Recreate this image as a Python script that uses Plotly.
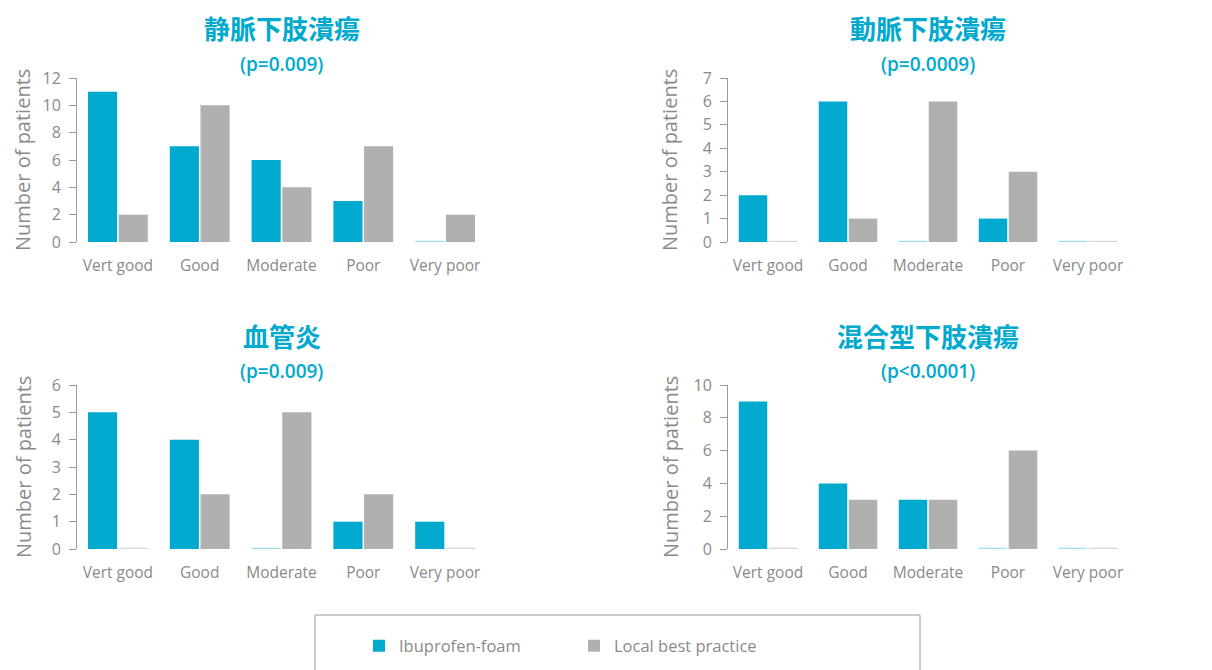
import plotly.graph_objects as go

categories = ["Vert good", "Good", "Moderate", "Poor", "Very poor"]
series_names = ["Ibuprofen-foam", "Local best practice"]

titles = ["静脈下肢潰瘍", "動脈下肢潰瘍", "血管炎", "混合型下肢潰瘍"]
p_values = ["(p=0.009)", "(p=0.0009)", "(p=0.009)", "(p<0.0001)"]

venous_ibuprofen = [11, 7, 6, 3, 0]
venous_local = [2, 10, 4, 7, 2]
arterial_ibuprofen = [2, 6, 0, 1, 0]
arterial_local = [0, 1, 6, 3, 0]
vasculitis_ibuprofen = [5, 4, 0, 1, 1]
vasculitis_local = [0, 2, 5, 2, 0]
mixed_ibuprofen = [9, 4, 3, 0, 0]
mixed_local = [0, 3, 3, 6, 0]

y_max = [12, 7, 6, 10]
y_dtick = [2, 1, 1, 2]

BLUE = "#00a9ce"
GRAY = "#b0b0b0"
BLUE_ZERO = "#9fdcee"
GRAY_ZERO = "#d6d6d6"
TEXT = "#8a8a8a"

# the page has an 8px body margin: the figure occupies the rest of the window
OFF = 8
W, H = 1212 - OFF, 670 - OFF


def px_x(x):
    return (x - OFF) / W


def px_y(y):
    return 1 - (y - OFF) / H


panels = [
    (venous_ibuprofen, venous_local),
    (arterial_ibuprofen, arterial_local),
    (vasculitis_ibuprofen, vasculitis_local),
    (mixed_ibuprofen, mixed_local),
]

# window-pixel layout of the panels: (x0, x1, y_top, y_bottom)
px_dom = [(77, 486, 78, 242), (728, 1128, 78, 242), (77, 486, 385, 549), (728, 1128, 385, 549)]

fig = go.Figure()

for i, (b, g) in enumerate(panels):
    ax = "" if i == 0 else str(i + 1)
    for vals, col, zcol, name in ((b, BLUE, BLUE_ZERO, series_names[0]), (g, GRAY, GRAY_ZERO, series_names[1])):
        fig.add_trace(go.Bar(
            x=categories, y=vals, name=name,
            marker=dict(color=col,
                        line=dict(color=[zcol if v == 0 else col for v in vals],
                                  width=[2.5 if v == 0 else 0 for v in vals])),
            xaxis="x" + ax, yaxis="y" + ax,
            showlegend=(i == 0), legendgroup=name,
        ))
    x0, x1, yt, yb = px_dom[i]
    fig.layout["xaxis" + ax] = dict(
        domain=[px_x(x0), px_x(x1)], anchor="y" + ax, range=[-0.5, 4.5],
        showline=False, ticks="", showgrid=False, zeroline=False,
        tickfont=dict(size=15.5, color=TEXT, family="Open Sans"),
        ticklabelstandoff=12,
    )
    fig.layout["yaxis" + ax] = dict(
        domain=[px_y(yb), px_y(yt)], anchor="x" + ax, range=[0, y_max[i]],
        dtick=y_dtick[i], showline=True, linecolor="#9a9a9a", linewidth=1,
        ticks="outside", ticklen=7, tickcolor="#9a9a9a", showgrid=False, zeroline=False,
        tickfont=dict(size=16, color=TEXT, family="Open Sans"),
        ticklabelstandoff=5,
    )
    cx = px_x((x0 + x1) / 2)
    ty = 28 if i < 2 else 335
    fig.add_annotation(x=cx, y=px_y(ty), xref="paper", yref="paper", text=titles[i],
                       showarrow=False, xanchor="center", yanchor="middle",
                       font=dict(size=26, color=BLUE, family="Noto Sans CJK JP", weight="bold"))
    fig.add_annotation(x=cx, y=px_y(ty + 36), xref="paper", yref="paper", text=p_values[i],
                       showarrow=False, xanchor="center", yanchor="middle",
                       font=dict(size=19, color=BLUE, family="Open Sans", weight=600))
    ax_x = 23 if i % 2 == 0 else 670
    fig.add_annotation(x=px_x(ax_x), y=px_y((yt + yb) / 2), xref="paper", yref="paper",
                       text="Number of patients", textangle=-90, showarrow=False,
                       xanchor="center", yanchor="middle",
                       font=dict(size=20, color=TEXT, family="Open Sans"))

fig.add_shape(type="rect", xref="paper", yref="paper",
              x0=px_x(315), x1=px_x(920), y0=px_y(615), y1=px_y(700),
              line=dict(color="#9a9a9a", width=1), fillcolor="rgba(0,0,0,0)")

fig.update_layout(
    width=W, height=H, margin=dict(l=0, r=0, t=0, b=0, autoexpand=False),
    paper_bgcolor="white", plot_bgcolor="white",
    barmode="group", bargap=0.25, bargroupgap=0.05,
    legend=dict(orientation="h", x=px_x(359), xanchor="left", y=px_y(646), yanchor="middle",
                font=dict(size=16.5, color=TEXT, family="Open Sans"),
                entrywidth=170, bgcolor="rgba(0,0,0,0)", borderwidth=0,
                traceorder="normal"),
    font=dict(family="Open Sans", color=TEXT),
)

fig.write_html("out.html")
